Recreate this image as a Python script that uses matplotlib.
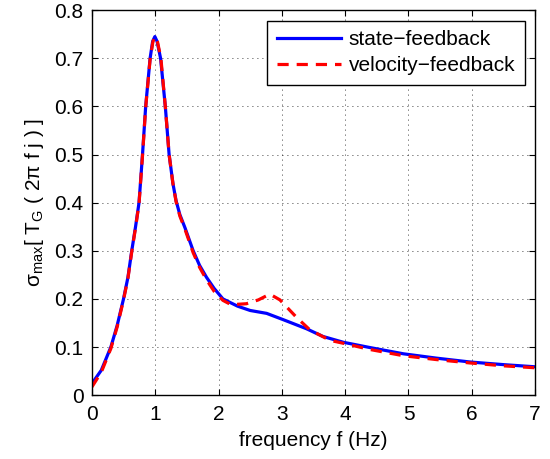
import matplotlib
matplotlib.use("Agg")
import matplotlib.pyplot as plt
import numpy as np

plt.rcParams['font.family'] = ['Liberation Sans', 'DejaVu Sans']
plt.rcParams['mathtext.fontset'] = 'custom'
plt.rcParams['mathtext.rm'] = 'Liberation Sans'
plt.rcParams['mathtext.it'] = 'Liberation Sans:italic'
plt.rcParams['mathtext.default'] = 'regular'

# state-feedback
f_state = [0.0, 0.15, 0.30, 0.40, 0.50, 0.57, 0.63, 0.69, 0.745, 0.80, 0.85, 0.92,
           0.96, 0.995, 1.03, 1.085, 1.16, 1.22, 1.28, 1.33, 1.39, 1.47, 1.60, 1.70, 1.81,
           1.93, 2.07, 2.3, 2.5, 2.76, 3.02, 3.39, 3.65, 3.97, 4.39, 4.92, 5.44,
           5.97, 6.5, 7.0]
v_state = [0.024, 0.052, 0.100, 0.145, 0.200, 0.245, 0.300, 0.350, 0.400, 0.500, 0.600, 0.700,
           0.735, 0.745, 0.735, 0.700, 0.600, 0.500, 0.440, 0.404, 0.375, 0.348, 0.300, 0.270, 0.245,
           0.222, 0.200, 0.185, 0.176, 0.170, 0.157, 0.138, 0.122, 0.110, 0.099, 0.086, 0.077,
           0.069, 0.0635, 0.059]

# velocity-feedback
f_vel = [0.0, 0.15, 0.30, 0.40, 0.50, 0.57, 0.63, 0.69, 0.745, 0.80, 0.85, 0.92,
         0.965, 1.0, 1.035, 1.09, 1.16, 1.22, 1.28, 1.33, 1.39, 1.47, 1.60, 1.70, 1.81,
         1.93, 2.07, 2.2, 2.44, 2.63, 2.81, 2.97, 3.23, 3.44, 3.76, 4.0, 4.39, 4.92,
         5.44, 5.97, 6.5, 7.0]
v_vel = [0.017, 0.048, 0.097, 0.142, 0.198, 0.243, 0.298, 0.348, 0.398, 0.498, 0.598, 0.698,
         0.735, 0.745, 0.735, 0.700, 0.600, 0.500, 0.440, 0.402, 0.372, 0.345, 0.296, 0.266, 0.240,
         0.216, 0.197, 0.188, 0.190, 0.198, 0.210, 0.198, 0.162, 0.136, 0.114, 0.107, 0.095,
         0.082, 0.074, 0.067, 0.061, 0.057]

fig = plt.figure(figsize=(5.5, 4.59), dpi=100)
ax = fig.add_axes([0.167, 0.139, 0.806, 0.839])

ax.plot(f_state, v_state, color='#0000ff', lw=2.3, solid_joinstyle='round',
        label='state\u2212feedback')
ax.plot(f_vel, v_vel, color='#ff0000', lw=2.3, ls=(0, (3.5, 2.5)),
        dash_joinstyle='round', label='velocity\u2212feedback')

ax.set_xlim(0, 7)
ax.set_ylim(0, 0.8)
ax.set_xticks(range(0, 8))
ax.set_yticks(np.arange(0, 0.81, 0.1))
ax.set_yticklabels(['0', '0.1', '0.2', '0.3', '0.4', '0.5', '0.6', '0.7', '0.8'])
ax.grid(True, color='black', ls=(0, (1, 5)), lw=0.6)
ax.tick_params(direction='in', top=True, right=True, labelsize=15, length=4)
ax.tick_params(axis='x', pad=7)
ax.tick_params(axis='y', pad=6)
for s in ax.spines.values():
    s.set_linewidth(1.0)

ax.set_xlabel('frequency f (Hz)', fontsize=15, labelpad=5)
ax.set_ylabel(r'$\sigma_{max}$[ T$_G$ ( 2$\pi$ f j ) ]', fontsize=15, labelpad=6)

leg = ax.legend(loc='upper right', fontsize=15, fancybox=False, framealpha=1,
                edgecolor='black', handlelength=3.1, handletextpad=0.35,
                borderaxespad=0.5, borderpad=0.45, labelspacing=0.35)
leg.get_frame().set_linewidth(1.0)

fig.savefig('out.png', dpi=100)
